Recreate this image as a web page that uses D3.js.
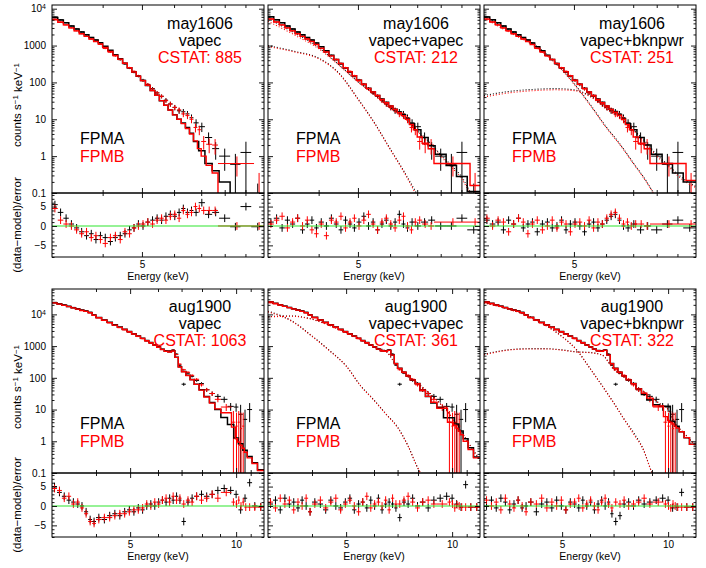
<!DOCTYPE html>
<html>
<head>
<meta charset="utf-8">
<script src="https://cdn.jsdelivr.net/npm/d3@7"></script>
<style>
  body { margin: 0; background: #fff; }
  svg { font-family: "Liberation Sans", Arial, Helvetica, sans-serif; }
</style>
</head>
<body>
<svg id="chart" width="706" height="568"></svg>
<script>
// ---------- axis tick values ----------
const energyTickValues = [4, 5, 6, 7, 8, 9, 10, 11, 12];
const energyLabelValues = [5, 10];
const countDecades = [0.1, 1, 10, 100, 1000, 10000];
const residLabelValues = [-5, 0, 5];
const residMinorTicks = [-8, -7, -6, -4, -3, -2, -1, 1, 2, 3, 4, 6, 7, 8];

// ---------- may1606 (FPMA = A, FPMB = B) ----------
const mayEdgesA = [3.00,3.10,3.20,3.30,3.40,3.50,3.60,3.70,3.80,3.90,4.00,4.12,4.24,4.36,4.48,4.60,4.72,4.84,4.96,5.10,5.24,5.38,5.52,5.66,5.80,5.95,6.10,6.25,6.40,6.55,6.70,6.90,7.15,7.45,7.75,8.25,8.75,9.30,10.0];
const mayEdgesB = [3.00,3.10,3.20,3.30,3.40,3.50,3.60,3.70,3.80,3.90,4.00,4.12,4.24,4.36,4.48,4.60,4.72,4.84,4.96,5.10,5.24,5.38,5.52,5.66,5.80,5.95,6.10,6.25,6.40,6.55,6.70,6.85,7.00,7.20,7.45,7.70,9.45,10.0];
const mayRateA = [6000,5000,4170,3400,2820,2340,1950,1660,1410,1170,930,710,540,415,316,245,190,148,115,87,68,52,42,33,26,21,17,16,14,11,8.0,6.3,3.2,1.6,1.0,0.6,1.26,0.08];
const mayErrA = [120,100,90,80,70,60,55,50,45,40,35,30,25,22,18,15,13,11,10,8,7,6,5,4.5,4,3.5,3,3,2.8,2.5,2,1.8,1.2,0.8,0.6,0.55,1.2,0.1];
const mayRateB = [5250,4370,3630,3020,2510,2090,1780,1510,1290,1070,830,660,525,417,331,251,200,151,112,89,66,52,42,32,26,21,18,14,12.6,10,6.0,5.2,2.5,2.1,2.0,0.63,0.05];
const mayErrB = [110,95,85,75,65,55,50,45,40,37,32,28,24,21,17,14,12,10,9,7.5,6,5.5,5,4.2,3.8,3.3,3,2.6,2.5,2.2,1.6,1.5,1.0,0.9,0.9,0.35,0.3];

const mayVapecA = [5750,4900,4170,3390,2820,2340,1950,1660,1410,1200,955,741,562,437,331,251,191,148,112,83,60,45,32,24,17.8,13.2,10,7.9,6.0,4.2,2.5,1.4,0.63,0.4,0.2,0.05,0.03,0.02];
const mayVapecB = [5010,4270,3630,3020,2510,2090,1780,1510,1290,1100,891,692,537,427,331,251,191,148,112,83,60,45,32,24,17.8,13.2,10,7.6,5.6,4.0,2.6,1.6,1.0,0.56,0.35,0.03,0.01];
const mayTwoVapecA = [6030,5010,4170,3390,2820,2340,1950,1660,1410,1170,933,724,550,417,324,251,195,151,115,89,69,55,44,35.5,28.8,22.9,18.6,15.8,13.2,10.5,7.6,5.2,3.2,1.9,1.12,0.56,0.28,0.11];
const mayTwoVapecB = [5250,4370,3630,3020,2510,2090,1780,1510,1290,1070,851,676,525,417,324,251,195,151,115,89,69,55,44,34.7,28.2,22.9,18.6,15.1,12.6,10,7.2,5.2,3.3,2.24,1.58,0.63,0.16];
const mayBknA = [6000,5000,4170,3390,2820,2340,1950,1660,1410,1170,933,724,550,417,324,251,195,151,115,89,69,55,44,35.5,28.8,22.9,18.6,16.2,13.5,10.5,7.6,5.2,3.2,2.0,1.12,0.63,0.35,0.2];
const mayBknB = [5230,4370,3630,3020,2510,2090,1780,1510,1290,1070,851,676,525,417,324,251,195,151,115,89,69,55,44,34.7,28.2,22.9,18.6,15.5,12.9,10,7.2,5.2,3.3,2.24,1.58,0.63,0.22];

const mayResVapecA = [5.5,3.5,2.0,0.5,-0.5,-1.5,-2.5,-2.0,-3.5,-2.5,-3.0,-4.0,-3.0,-2.5,-2.0,-1.0,-0.5,0.5,0.0,1.0,1.5,2.0,1.5,2.5,3.0,2.5,3.5,4.5,3.5,4.0,3.5,6.0,3.0,3.5,2.0,-0.2,5.0,-0.2];
const mayResVapecB = [4.5,1.5,0.5,0.0,-1.0,-2.0,-1.5,-3.0,-2.5,-3.5,-4.5,-3.0,-2.5,-3.5,-1.5,-2.0,-0.5,0.0,0.5,1.0,0.5,1.5,2.0,1.5,2.5,3.0,2.0,4.0,3.0,3.5,5.0,4.5,4.0,4.0,4.0,0.0,0.0];
const mayResTwoA = [1.0,2.0,-0.5,1.5,0.5,2.0,-1.0,0.5,1.5,-0.5,1.0,0.0,2.0,0.5,-1.0,1.5,0.5,-0.5,1.0,2.5,0.0,1.0,-1.0,0.5,1.5,0.0,1.0,3.0,0.5,-0.5,1.0,0.0,1.0,1.5,0.0,0.0,2.0,-1.0];
const mayResTwoB = [0.5,1.5,2.5,-0.5,1.0,2.0,0.0,1.5,-1.0,-2.0,0.5,-2.5,1.5,1.0,2.5,-0.5,1.0,2.0,0.0,1.5,3.0,0.5,-1.0,1.0,2.0,0.5,-0.5,1.5,2.5,0.0,-1.0,1.0,1.5,0.5,0.0,1.0,1.0];
const mayResBknA = [1.5,0.5,1.0,-1.0,1.5,0.5,2.0,-0.5,0.5,1.0,-1.5,0.5,1.0,-0.5,0.0,1.5,-1.0,0.5,1.0,0.0,-1.5,0.5,1.0,-0.5,0.5,1.5,2.5,3.0,1.5,0.0,-0.5,0.5,-1.0,0.0,-1.0,0.5,1.5,-0.5];
const mayResBknB = [2.0,0.0,1.5,1.0,-1.5,0.5,2.0,1.0,-2.0,0.5,1.5,-1.0,0.0,1.5,-0.5,1.0,0.5,-1.5,0.5,1.0,0.0,1.5,-0.5,1.0,0.5,2.0,3.0,3.5,2.0,0.5,1.0,0.0,0.5,0.5,0.0,0.5,0.5];

// model components (dotted), sampled on mayCompE
const mayCompE = [3.0,3.5,4.0,4.5,5.0,5.5,6.0,6.5,7.0,7.5,8.0,8.5,9.0,9.5,10.0];
const mayCoolA = [1000,690,457,174,36,7.8,1.6,0.38,0.09,0.02,0.005,0.002,0.001,0.001,0.001];
const mayCoolB = [940,665,440,168,35,7.6,1.55,0.36,0.08,0.02,0.005,0.002,0.001,0.001,0.001];
const mayHotA = [5370,2140,891,295,105,47,21,11.5,5.0,2.4,1.1,0.56,0.28,0.1,0.05];
const mayHotB = [4570,1900,820,285,102,46,20,11,4.8,2.2,1.0,0.5,0.25,0.09,0.05];
const mayVapecCompA = [6300,2400,1050,355,95,24,6.3,2.1,0.66,0.23,0.07,0.02,0.005,0.002,0.001];
const mayVapecCompB = [5500,2150,960,330,90,23,6.0,2.0,0.64,0.22,0.07,0.02,0.005,0.002,0.001];
const mayPowA = [44,58,65,68,63,42,20,11,5.3,2.5,1.1,0.6,0.33,0.21,0.15];
const mayPowB = [40,53,60,63,60,40,19,10.5,5.0,2.3,1.0,0.56,0.3,0.19,0.14];

// ---------- aug1900 ----------
const augEdgesA = [3.00,3.10,3.20,3.30,3.40,3.50,3.60,3.70,3.80,3.90,4.00,4.15,4.30,4.45,4.60,4.75,4.90,5.05,5.20,5.35,5.50,5.65,5.80,5.95,6.10,6.25,6.40,6.55,6.70,6.85,7.00,7.20,7.40,7.60,7.85,8.10,8.40,8.70,9.05,9.45,9.85,10.15,10.45,10.75,11.10,11.50,12.00];
const augEdgesB = [3.00,3.10,3.20,3.30,3.40,3.50,3.60,3.70,3.80,3.90,4.00,4.15,4.30,4.45,4.60,4.75,4.90,5.05,5.20,5.35,5.50,5.65,5.80,5.95,6.10,6.25,6.40,6.55,6.70,6.85,7.00,7.20,7.40,7.60,7.85,8.10,8.40,8.70,9.05,9.70,9.95,10.10,10.25,10.40,10.55,10.75,11.10,11.50,12.00];
const augRateA = [24000,21900,20000,18200,16600,15100,13800,12900,11700,9550,7940,6610,5500,4570,3890,3310,2820,2400,2040,1740,1480,1260,1070,933,794,708,708,759,562,251,63,141,112,83,66,42,32,26,21,12.6,12,7.1,4.9,10,0,0];
const augErrA = [300,280,260,240,220,200,190,180,170,150,130,115,100,90,80,70,65,58,52,46,42,38,34,31,28,26,26,27,22,15,7,10,9,8,7,6,5,5,4.5,3.5,3.5,7,5,6,0.05,0.05];
const augRateB = [23000,21500,19500,17800,16200,14800,13500,12600,11200,9300,7800,6450,5400,4500,3800,3250,2750,2350,2000,1700,1450,1230,1060,910,780,700,690,740,540,270,180,150,120,90,60,42,32,21,12,4,3,4,2.5,3,0,0,0,0];
const augErrB = [290,270,250,235,215,195,185,175,165,145,125,110,98,88,78,68,63,56,50,45,41,37,33,30,27,25,25,26,22,15,12,11,10,8.5,7,6,5,4,3,5,5,5,5.5,5,0.05,0.05,0.05,0.05];

const augVapecA = [23400,21400,19500,17800,16200,14800,13500,12600,11500,9550,7940,6610,5620,4680,3980,3390,2880,2450,2090,1780,1510,1290,1100,933,794,692,661,708,447,224,158,120,89,63,42,26,16.6,10,5.6,3.4,1.26,0.83,0.52,0.33,0.21,0.126];
const augVapecB = [23000,21100,19200,17500,16000,14600,13300,12400,11300,9400,7800,6500,5500,4600,3900,3330,2830,2400,2050,1750,1480,1270,1080,920,780,680,650,700,440,220,156,118,87,62,41,25,16,10.5,7.9,2.8,1.2,0.95,0.75,0.6,0.45,0.3,0.2,0.12];
const augTwoVapecA = [25100,22400,20000,18200,16600,15100,13800,12600,11500,9770,8130,6760,5620,4680,3980,3390,2880,2450,2090,1780,1510,1290,1100,955,813,724,692,741,525,282,200,151,115,87,66,40,26,16,11.7,5.5,5.5,3.5,2.1,1.2,0.63,0.32];
const augTwoVapecB = [24500,22000,19700,17900,16300,14900,13600,12400,11300,9600,8000,6650,5550,4620,3930,3340,2840,2420,2060,1760,1490,1270,1090,945,805,715,685,735,520,280,198,150,114,86,65,40,26,17,11,4.0,3.9,3.2,2.6,2.1,1.6,1.0,0.55,0.3];
const augBknA = [25100,22400,20000,18200,16600,15100,13800,12600,11500,9770,8130,6760,5620,4680,3980,3390,2880,2450,2090,1780,1510,1290,1100,955,813,724,692,741,525,282,200,151,115,87,66,45,30,20,14.1,12.6,12.6,4.3,3.0,2.0,1.3,0.8];
const augBknB = [24500,22000,19700,17900,16300,14900,13600,12400,11300,9600,8000,6650,5550,4620,3930,3340,2840,2420,2060,1760,1490,1270,1090,945,805,715,685,735,520,280,198,150,114,86,65,45,33,23,13,6,4.5,4.0,3.5,3.0,2.6,2.0,1.3,0.8];

const augResVapecA = [5.0,3.5,2.5,1.5,1.0,0.5,0.0,-1.5,-3.5,-4.0,-3.0,-3.5,-2.5,-2.0,-2.5,-1.5,-1.0,-1.5,-0.5,-1.0,0.0,0.5,0.0,1.0,1.5,1.0,2.0,1.5,2.5,1.5,-4.0,1.0,2.0,2.5,3.0,2.5,3.0,4.0,4.5,4.0,3.0,-1.0,2.0,6.0,0.0,-0.2];
const augResVapecB = [4.5,4.0,2.0,2.5,0.5,1.0,-0.5,-2.0,-4.0,-4.5,-3.5,-3.0,-3.0,-2.5,-2.0,-2.0,-1.5,-1.0,-1.0,-0.5,0.5,0.0,1.0,0.5,1.5,2.0,1.0,2.5,1.5,2.0,0.5,1.5,1.0,2.5,1.5,2.0,3.0,2.0,3.5,1.0,0.5,1.5,0.0,1.0,-0.3,-0.3,-0.3,-0.3];
const augResTwoA = [0.5,1.5,-1.0,2.0,0.5,1.0,-0.5,1.5,0.0,-1.5,1.0,0.5,-1.0,1.5,0.0,-0.5,1.0,2.0,-1.0,0.5,1.0,-0.5,1.5,0.0,2.0,-1.0,0.5,1.0,0.5,-0.5,-3.0,1.0,0.5,2.0,0.0,1.0,-0.5,1.5,2.0,2.5,2.0,0.5,-0.3,5.5,-0.3,-0.3];
const augResTwoB = [1.0,-0.5,2.0,0.5,1.5,-1.0,1.0,0.0,2.0,-1.5,0.5,1.5,-0.5,1.0,2.0,-1.0,0.5,1.5,0.0,-1.5,1.0,2.5,-0.5,0.5,1.0,0.0,1.5,-1.0,2.0,0.5,0.5,1.5,2.5,1.0,-0.5,1.0,1.5,0.5,0.5,1.0,0.5,-0.5,0.3,0.0,-0.3,-0.3,-0.3,-0.3];
const augResBknA = [0.0,1.5,-0.5,2.0,1.0,-1.0,0.5,1.5,-0.5,0.0,1.0,-1.5,0.5,1.0,-0.5,1.5,0.0,-1.0,1.0,0.5,-0.5,1.5,0.0,1.0,-1.0,0.5,1.5,0.0,1.0,-2.0,-4.0,-2.5,0.5,1.0,0.0,1.5,0.5,1.0,1.5,2.0,1.5,-0.5,-0.3,3.5,-0.3,-0.3];
const augResBknB = [1.5,0.0,1.0,-1.0,2.0,0.5,-0.5,1.5,0.0,-1.5,1.0,0.5,2.0,-0.5,1.0,0.0,1.5,-1.0,0.5,1.0,2.0,-0.5,0.5,1.5,0.0,-1.0,1.0,2.0,0.5,-0.5,1.0,0.5,1.5,0.0,0.5,1.0,2.0,0.5,1.0,0.5,0.0,-0.5,0.5,0.0,-0.3,-0.3,-0.3,-0.3];

const augCompE = [3.0,3.5,4.0,4.5,5.0,5.5,6.0,6.5,7.0,7.5,8.0,8.5,9.0,9.5,10.0,10.5,11.0,11.5,12.0];
const augCoolA = [12600,6300,2090,708,240,56,20,7.1,2.8,0.71,0.14,0.05,0.02,0.01,0.01,0.01,0.01,0.01,0.01];
const augCoolB = [12000,6100,2030,690,235,55,19.5,7.0,2.7,0.7,0.14,0.05,0.02,0.01,0.01,0.01,0.01,0.01,0.01];
const augHotA = [8500,8900,7080,4470,2750,1620,955,676,224,112,66,38,21,11.2,5.6,2.5,1.1,0.52,0.25];
const augHotB = [8300,8700,6950,4400,2700,1600,940,665,220,110,65,37,20.5,11,5.5,2.45,1.08,0.5,0.24];
const augVapecCompA = [23400,15100,9120,4470,2000,760,200,56,16.6,5.0,1.8,0.56,0.1,0.03,0.01,0.01,0.01,0.01,0.01];
const augVapecCompB = [22800,14800,8900,4400,1960,745,196,55,16.3,4.9,1.6,0.55,0.1,0.03,0.01,0.01,0.01,0.01,0.01];
const augPowA = [550,760,830,830,760,660,630,525,190,105,63,38,24,15,10,3.5,2.0,1.2,0.7];
const augPowB = [530,740,810,815,745,650,620,515,186,103,62,37,23.5,14.7,9.8,3.4,1.95,1.15,0.68];

// ---------- layout ----------
const panelLeft = [52, 268, 484];
const panelWidth = 212;
const residDomain = [-8, 8.5];
const FLOOR = 1e-4;
const RED = "#ff0000";

const rows = [
  { obs: "may1606", top: 5, upperH: 188, resH: 64, eMax: 10, yMax: 12600, titleDy: [23.5, 40.5, 57.5],
    edgesA: mayEdgesA, edgesB: mayEdgesB, rateA: mayRateA, errA: mayErrA, rateB: mayRateB, errB: mayErrB, compE: mayCompE,
    fits: [
      { model: "vapec", cstat: 885, modelA: mayVapecA, modelB: mayVapecB, resA: mayResVapecA, resB: mayResVapecB, comps: [] },
      { model: "vapec+vapec", cstat: 212, modelA: mayTwoVapecA, modelB: mayTwoVapecB, resA: mayResTwoA, resB: mayResTwoB,
        comps: [[mayCoolA, mayCoolB], [mayHotA, mayHotB]] },
      { model: "vapec+bknpwr", cstat: 251, modelA: mayBknA, modelB: mayBknB, resA: mayResBknA, resB: mayResBknB,
        comps: [[mayVapecCompA, mayVapecCompB], [mayPowA, mayPowB]] }
    ] },
  { obs: "aug1900", top: 289, upperH: 184, resH: 64, eMax: 12, yMax: 63100, titleDy: [22.5, 39.5, 56.5],
    edgesA: augEdgesA, edgesB: augEdgesB, rateA: augRateA, errA: augErrA, rateB: augRateB, errB: augErrB, compE: augCompE,
    fits: [
      { model: "vapec", cstat: 1063, modelA: augVapecA, modelB: augVapecB, resA: augResVapecA, resB: augResVapecB, comps: [] },
      { model: "vapec+vapec", cstat: 361, modelA: augTwoVapecA, modelB: augTwoVapecB, resA: augResTwoA, resB: augResTwoB,
        comps: [[augCoolA, augCoolB], [augHotA, augHotB]] },
      { model: "vapec+bknpwr", cstat: 322, modelA: augBknA, modelB: augBknB, resA: augResBknA, resB: augResBknB,
        comps: [[augVapecCompA, augVapecCompB], [augPowA, augPowB]] }
    ] }
];

const svg = d3.select("#chart");
svg.append("rect").attr("width", 706).attr("height", 568).attr("fill", "#fff");

let clipCount = 0;
function addClip(x0, y0, w, h) {
  const id = "clip" + (clipCount++);
  svg.append("clipPath").attr("id", id)
    .append("rect").attr("x", x0).attr("y", y0).attr("width", w).attr("height", h);
  return `url(#${id})`;
}

// crosses: horizontal bar across the bin, vertical bar for the error
function crossPath(x, yf, edges, vals, errs) {
  let p = "";
  const n = Math.min(vals.length, edges.length - 1);
  for (let i = 0; i < n; i++) {
    const lo = edges[i], hi = edges[i + 1], mid = (lo + hi) / 2;
    const e = errs ? errs[i] : 1;
    p += `M${x(lo)},${yf(vals[i])}H${x(hi)}M${x(mid)},${yf(vals[i] - e)}V${yf(vals[i] + e)}`;
  }
  return p;
}

function stepPoints(edges, vals) {
  const n = Math.min(vals.length, edges.length - 1);
  const pts = [];
  for (let i = 0; i < n; i++) { pts.push([edges[i], vals[i]]); pts.push([edges[i + 1], vals[i]]); }
  return pts;
}

function styleAxis(g) {
  g.select(".domain").remove();
  g.selectAll(".tick line").attr("stroke", "#000").attr("stroke-width", 0.9);
  g.selectAll(".tick text").attr("font-family", "Liberation Sans, Arial, sans-serif")
    .attr("font-size", "10px").attr("fill", "#000");
}

rows.forEach(row => {
  const upTop = row.top, upBot = row.top + row.upperH, resBot = upBot + row.resH;
  const minorCounts = d3.scaleLog().domain([0.1, row.yMax]).ticks().filter(v => !countDecades.includes(v));
  const xTicks = energyTickValues.filter(v => v > 3 && v < row.eMax);

  row.fits.forEach((fit, k) => {
    const px = panelLeft[k];
    const x = d3.scaleLog().domain([3, row.eMax]).range([px, px + panelWidth]);
    const y = d3.scaleLog().domain([0.1, row.yMax]).range([upBot, upTop]);
    const yr = d3.scaleLinear().domain(residDomain).range([resBot, upBot]);
    const yc = v => y(Math.max(v, FLOOR));
    const showY = k === 0;

    // ---- upper panel ----
    const up = svg.append("g").attr("clip-path", addClip(px, upTop, panelWidth, row.upperH));
    up.append("path").attr("d", crossPath(x, yc, row.edgesA, row.rateA, row.errA))
      .attr("fill", "none").attr("stroke", "#000").attr("stroke-width", 1);
    up.append("path").attr("d", crossPath(x, yc, row.edgesB, row.rateB, row.errB))
      .attr("fill", "none").attr("stroke", RED).attr("stroke-width", 1);

    const smooth = d3.line().x(d => x(d[0])).y(d => yc(d[1])).curve(d3.curveMonotoneX);
    fit.comps.forEach(pair => {
      [[pair[0], "#000"], [pair[1], RED]].forEach(([vals, col]) => {
        up.append("path").attr("d", smooth(row.compE.map((e, i) => [e, vals[i]])))
          .attr("fill", "none").attr("stroke", col).attr("stroke-width", 1.1)
          .attr("stroke-dasharray", "1,2");
      });
    });

    const step = d3.line().x(d => x(d[0])).y(d => yc(d[1]));
    up.append("path").attr("d", step(stepPoints(row.edgesA, fit.modelA)))
      .attr("fill", "none").attr("stroke", "#000").attr("stroke-width", 1.5);
    up.append("path").attr("d", step(stepPoints(row.edgesB, fit.modelB)))
      .attr("fill", "none").attr("stroke", RED).attr("stroke-width", 1.4);

    // ---- residual panel ----
    const rs = svg.append("g").attr("clip-path", addClip(px, upBot, panelWidth, row.resH));
    rs.append("path").attr("d", crossPath(x, yr, row.edgesA, fit.resA, null))
      .attr("fill", "none").attr("stroke", "#000").attr("stroke-width", 1);
    rs.append("path").attr("d", crossPath(x, yr, row.edgesB, fit.resB, null))
      .attr("fill", "none").attr("stroke", RED).attr("stroke-width", 1);
    rs.append("line").attr("x1", px).attr("x2", px + panelWidth).attr("y1", yr(0)).attr("y2", yr(0))
      .attr("stroke", "#2ee62e").attr("stroke-width", 1.1);

    // ---- axes (PGPLOT style: ticks inside, on all four sides) ----
    const yFmt = v => (showY ? (v >= 1e4 ? "10" : d3.format("~g")(v)) : "");
    const left = svg.append("g").attr("transform", `translate(${px},0)`)
      .call(d3.axisLeft(y).tickValues(countDecades).tickSize(-5).tickPadding(6).tickFormat(yFmt));
    left.call(styleAxis);
    left.selectAll(".tick text").filter(d => d >= 1e4 && showY)
      .append("tspan").attr("dy", "-0.45em").attr("font-size", "7px").text("4");
    svg.append("g").attr("transform", `translate(${px},0)`)
      .call(d3.axisLeft(y).tickValues(minorCounts).tickSize(-2.5).tickFormat("")).call(styleAxis);
    svg.append("g").attr("transform", `translate(${px + panelWidth},0)`)
      .call(d3.axisRight(y).tickValues(countDecades).tickSize(-5).tickFormat("")).call(styleAxis);
    svg.append("g").attr("transform", `translate(${px + panelWidth},0)`)
      .call(d3.axisRight(y).tickValues(minorCounts).tickSize(-2.5).tickFormat("")).call(styleAxis);

    svg.append("g").attr("transform", `translate(${px},0)`)
      .call(d3.axisLeft(yr).tickValues(residLabelValues).tickSize(-5).tickPadding(6)
        .tickFormat(showY ? d3.format("d") : "")).call(styleAxis);
    svg.append("g").attr("transform", `translate(${px},0)`)
      .call(d3.axisLeft(yr).tickValues(residMinorTicks).tickSize(-2.5).tickFormat("")).call(styleAxis);
    svg.append("g").attr("transform", `translate(${px + panelWidth},0)`)
      .call(d3.axisRight(yr).tickValues(residLabelValues).tickSize(-5).tickFormat("")).call(styleAxis);
    svg.append("g").attr("transform", `translate(${px + panelWidth},0)`)
      .call(d3.axisRight(yr).tickValues(residMinorTicks).tickSize(-2.5).tickFormat("")).call(styleAxis);

    const tickLen = v => (energyLabelValues.includes(v) ? -5 : -3);
    [[upTop, d3.axisTop], [upBot, d3.axisBottom], [upBot, d3.axisTop], [resBot, d3.axisBottom]].forEach(([yy, ax]) => {
      xTicks.forEach(v => {
        svg.append("g").attr("transform", `translate(0,${yy})`)
          .call(ax(x).tickValues([v]).tickSize(tickLen(v)).tickFormat("")).call(styleAxis);
      });
    });
    svg.append("g").attr("transform", `translate(0,${resBot})`)
      .call(d3.axisBottom(x).tickValues(energyLabelValues.filter(v => v < row.eMax)).tickSize(0).tickPadding(4)
        .tickFormat(d3.format("d"))).call(styleAxis);

    // frames
    svg.append("rect").attr("x", px).attr("y", upTop).attr("width", panelWidth).attr("height", row.upperH)
      .attr("fill", "none").attr("stroke", "#000").attr("stroke-width", 1);
    svg.append("rect").attr("x", px).attr("y", upBot).attr("width", panelWidth).attr("height", row.resH)
      .attr("fill", "none").attr("stroke", "#000").attr("stroke-width", 1);

    // ---- texts ----
    const tx = px + 148;
    svg.append("text").attr("x", tx).attr("y", upTop + row.titleDy[0]).attr("text-anchor", "middle")
      .attr("font-size", "16px").attr("fill", "#000").text(row.obs);
    svg.append("text").attr("x", tx).attr("y", upTop + row.titleDy[1]).attr("text-anchor", "middle")
      .attr("font-size", "16px").attr("fill", "#000").text(fit.model);
    svg.append("text").attr("x", tx).attr("y", upTop + row.titleDy[2]).attr("text-anchor", "middle")
      .attr("font-size", "16px").attr("fill", RED).text(`CSTAT: ${fit.cstat}`);
    svg.append("text").attr("x", px + 28).attr("y", y(1) - 12)
      .attr("font-size", "16px").attr("fill", "#000").text("FPMA");
    svg.append("text").attr("x", px + 28).attr("y", y(1) + 5.5)
      .attr("font-size", "16px").attr("fill", RED).text("FPMB");

    svg.append("text").attr("x", px + panelWidth / 2).attr("y", resBot + 23).attr("text-anchor", "middle")
      .attr("font-size", "10.5px").attr("fill", "#000").text("Energy (keV)");

    if (showY) {
      const cy = (upTop + upBot) / 2 + 6;
      const lab = svg.append("text").attr("transform", `translate(21,${cy}) rotate(-90)`)
        .attr("text-anchor", "middle").attr("font-size", "11.5px").attr("fill", "#000");
      lab.append("tspan").text("counts s");
      lab.append("tspan").attr("dy", "-0.4em").attr("font-size", "8px").text("\u22121");
      lab.append("tspan").attr("dy", "0.4em").text(" keV");
      lab.append("tspan").attr("dy", "-0.4em").attr("font-size", "8px").text("\u22121");
      svg.append("text").attr("transform", `translate(21,${(upBot + resBot) / 2}) rotate(-90)`)
        .attr("text-anchor", "middle").attr("font-size", "11.5px").attr("fill", "#000")
        .text("(data\u2212model)/error");
    }
  });
});
</script>
</body>
</html>
